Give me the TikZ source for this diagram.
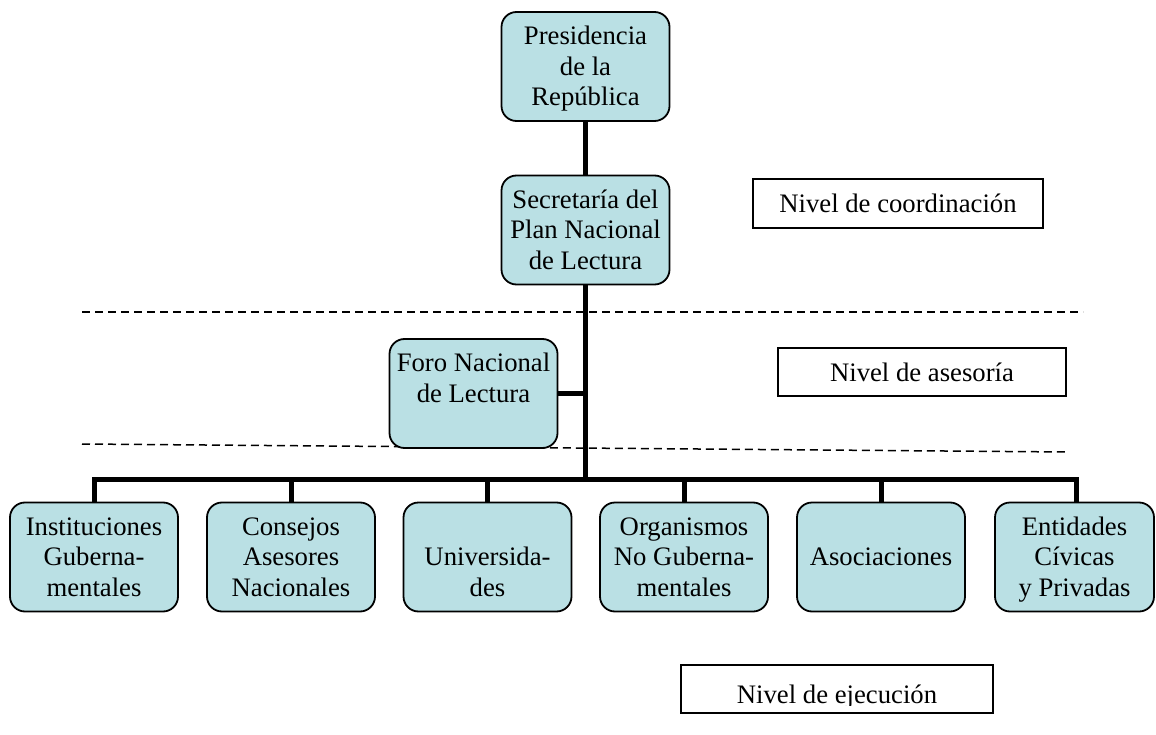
\documentclass[tikz,border=0pt]{standalone}
\usepackage{fontspec}
\setmainfont{Liberation Serif}
\definecolor{boxblue}{RGB}{186,224,228}
\newcommand{\topstr}{\rule{0pt}{27pt}}
\tikzset{
  orgbox/.style={draw=black, line width=1.8pt, fill=boxblue, rounded corners=15pt,
    minimum width=168pt, minimum height=109pt, inner sep=0pt, align=center,
    font=\fontsize{26.7}{30.5}\selectfont},
  levelbox/.style={draw=black, line width=1.8pt, fill=white, inner sep=0pt,
    align=center, font=\fontsize{26.7}{30.5}\selectfont},
  conn/.style={line width=5pt, line join=miter},
  levelline/.style={line width=1.5pt, dash pattern=on 8pt off 5pt}
}
\begin{document}
\begin{tikzpicture}[x=1pt,y=-1pt]
\useasboundingbox (0,0) rectangle (1156,735);
% dashed level separators
\draw[levelline] (82,312) -- (1083,312);
\draw[levelline] (82,444) -- (1068,452);
% boxes
\node[orgbox] (pres) at (585.5,66.5) {\topstr Presidencia\\de la\\República\strut};
\node[orgbox] (sec) at (585.5,230) {\topstr Secretaría del\\Plan Nacional\\de Lectura\strut};
\node[orgbox] (foro) at (473.5,393.5) {\topstr Foro Nacional\\de Lectura\\\strut};
\node[orgbox] (b1) at (94,557) {\topstr Instituciones\\Guberna-\\mentales\strut};
\node[orgbox] (b2) at (291,557) {\topstr Consejos\\Asesores\\Nacionales\strut};
\node[orgbox] (b3) at (487.5,557) {\topstr\\Universida-\\des\strut};
\node[orgbox] (b4) at (684,557) {\topstr Organismos\\No Guberna-\\mentales\strut};
\node[orgbox] (b5) at (881,557) {Asociaciones};
\node[orgbox, minimum width=159pt] (b6) at (1074.5,557) {\topstr Entidades\\Cívicas\\y Privadas\strut};
% level labels
\node[levelbox, minimum width=290pt, minimum height=49pt] (lcoord) at (898,203.5) {Nivel de coordinación};
\node[levelbox, minimum width=288pt, minimum height=48pt] (lases) at (922,372) {Nivel de asesoría};
\node[levelbox, minimum width=312pt, minimum height=48pt] (lejec) at (837,689) {\raisebox{0pt}[28pt][0pt]{Nivel de ejecución}};
\fill[white] (682.5,706) rectangle (991.5,711.9);
% connectors
\coordinate (bus) at (0,479);
\draw[conn] (pres.south) -- (sec.north);
\draw[conn] (sec.south) -- (sec.south |- bus);
\draw[conn] (foro.east) -- (foro.east -| sec.south);
\draw[conn] (b1.north) -- (b1.north |- bus) -- ([xshift=2pt]b6.north |- bus) -- ([xshift=2pt]b6.north);
\draw[conn] (b2.north) -- (b2.north |- bus);
\draw[conn] (b3.north) -- (b3.north |- bus);
\draw[conn] (b4.north) -- (b4.north |- bus);
\draw[conn] (b5.north) -- (b5.north |- bus);
\end{tikzpicture}
\end{document}
